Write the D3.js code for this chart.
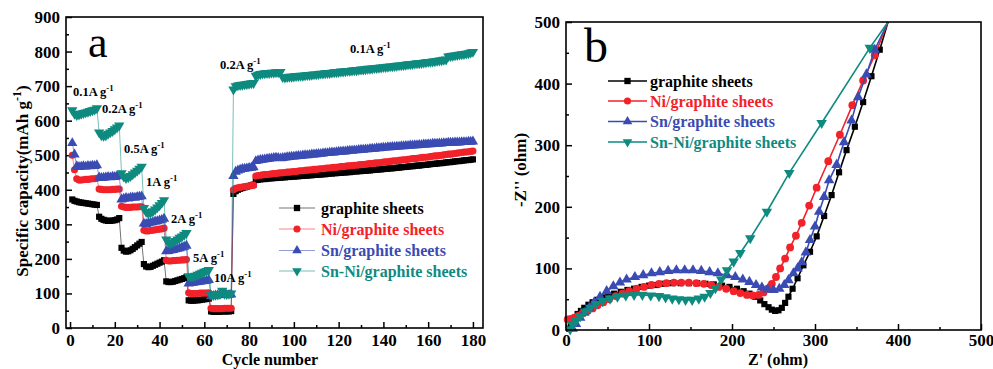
<!DOCTYPE html>
<html><head><meta charset="utf-8">
<script src="https://cdn.jsdelivr.net/npm/d3@7"></script>
<style>
body{margin:0;background:#fff}
svg{display:block}
</style>
</head><body>
<svg id="c" width="993" height="369"></svg>
<script>
// ---------- Panel a: rate capability ----------
const cycles = d3.range(1, 181);
const seriesNames = ["graphite sheets", "Ni/graphite sheets", "Sn/graphite sheets", "Sn-Ni/graphite sheets"];
const rateLabels = ["0.1A g", "0.2A g", "0.5A g", "1A g", "2A g", "5A g", "10A g", "0.2A g", "0.1A g"];

const graphite = [
 372,368,366,364,363,362,361,360,359,358,357,356,
 322,316,313,311,310,310,311,312,314,318,
 232,224,221,222,225,229,234,239,244,249,
 185,178,176,177,180,183,186,189,192,196,
 135,133,133,134,136,138,140,142,144,147,
 80,79,79,80,80,81,82,83,84,85,
 48,47,47,47,47,48,48,48,48,49,
 388,396,400,403,405,407,409,411,413,415,
 428,429,430,431,431,432,433,433,434,434,
 435,435,436,436,437,437,438,438,439,439,
 440,440,441,441,442,442,443,443,444,444,
 445,445,446,447,447,448,448,449,449,450,
 450,451,451,452,453,453,454,454,455,455,
 456,456,457,458,458,459,459,460,461,461,
 462,462,463,464,464,465,466,466,467,468,
 468,469,470,470,471,472,472,473,474,475,
 475,476,477,477,478,479,480,480,481,482,
 483,483,484,485,486,486,487,488];
const niGraphite = [
 500,458,432,428,428,429,430,430,431,432,432,433,
 402,401,400,400,400,400,401,401,402,402,
 352,350,349,349,349,350,350,350,351,351,
 283,281,281,282,283,284,285,286,287,289,
 196,194,194,195,195,196,196,197,197,198,
 102,100,100,100,100,101,101,101,101,102,
 57,56,56,56,56,56,57,57,57,57,
 400,404,406,407,408,409,410,411,412,413,
 440,441,442,443,444,444,445,446,447,447,
 448,449,449,450,451,451,452,453,453,454,
 455,455,456,457,457,458,459,459,460,461,
 461,462,463,463,464,465,465,466,467,467,
 468,469,469,470,471,471,472,473,473,474,
 475,476,476,477,478,478,479,480,481,481,
 482,483,484,484,485,486,487,487,488,489,
 490,490,491,492,493,494,494,495,496,497,
 498,498,499,500,501,502,503,503,504,505,
 506,507,508,509,509,510,511,512];
const snGraphite = [
 535,502,468,466,467,468,467,469,468,470,469,471,
 436,434,435,436,437,436,438,437,439,440,
 372,374,376,375,377,378,377,379,380,381,
 302,301,303,305,306,308,309,311,313,316,
 222,223,225,226,228,229,231,233,235,238,
 129,130,131,132,133,134,135,136,137,139,
 92,93,94,95,96,100,97,96,96,97,
 440,452,456,458,460,461,462,463,464,465,
 483,485,486,487,488,489,490,491,492,493,
 492,491,492,493,494,495,496,496,497,498,
 498,499,500,500,501,502,502,503,504,504,
 505,506,506,507,508,508,509,510,510,511,
 511,512,513,513,514,514,515,516,516,517,
 517,518,519,519,520,520,521,522,522,523,
 523,524,524,525,525,526,526,527,527,528,
 528,529,529,530,530,531,531,532,532,533,
 533,533,534,534,535,535,536,536,536,537,
 537,537,538,538,538,539,539,540];
const snNiGraphite = [
 630,620,616,618,620,622,624,626,628,630,632,636,
 566,558,556,558,562,566,570,575,580,586,
 448,438,434,436,440,445,450,455,461,467,
 347,336,332,334,338,343,349,355,362,370,
 256,247,245,248,252,256,261,265,270,275,
 150,148,149,151,154,157,160,163,165,168,
 96,95,96,97,98,108,99,98,99,100,
 690,700,702,703,704,705,706,707,708,709,
 730,733,735,736,737,738,738,739,739,740,
 740,741,726,725,726,727,727,728,729,729,
 730,730,731,732,732,733,734,734,735,736,
 736,737,738,738,739,740,740,741,742,742,
 743,744,744,745,746,746,747,748,748,749,
 750,750,751,752,752,753,754,755,755,756,
 757,757,758,759,760,760,761,762,763,763,
 764,765,766,766,767,768,769,770,770,771,
 772,773,774,775,776,777,786,787,788,789,
 790,791,792,793,794,795,797,799];

// ---------- Panel b: Nyquist plots [Z', -Z''] ----------
const eisGraphite = [[4,2],[6,8],[8,14],[11,20],[14,26],[18,31],[22,36],[27,41],[32,45],[38,49],[44,53],[51,56],[58,59],[66,62],[74,65],[82,67],[91,70],[100,72],[109,73],[118,75],[128,76],[138,76],[148,76],[158,76],[168,75],[178,74],[188,72],[197,70],[206,67],[214,63],[221,59],[228,54],[234,48],[239,42],[244,37],[248,33],[252,31],[256,32],[260,36],[264,44],[268,54],[273,67],[279,84],[286,105],[294,127],[302,152],[311,185],[320,219],[329,256],[338,292],[348,330],[358,370],[368,412],[378,455],[388,500]];
const eisNi = [[2,17],[6,18],[10,20],[15,23],[20,27],[26,31],[32,35],[38,40],[45,45],[52,50],[60,55],[68,59],[76,63],[85,67],[94,70],[103,73],[112,75],[121,76],[130,77],[139,77],[148,77],[157,76],[166,75],[175,73],[184,70],[193,67],[202,63],[210,60],[218,57],[225,56],[232,57],[238,61],[243,67],[248,75],[253,86],[258,100],[264,116],[270,134],[277,153],[284,174],[293,202],[302,231],[316,274],[330,317],[345,365],[358,405],[372,446],[388,500]];
const eisSn = [[8,2],[12,10],[17,20],[22,28],[28,36],[34,45],[41,54],[49,63],[57,71],[65,77],[73,82],[83,86],[93,89],[103,92],[113,94],[123,96],[133,97],[143,97],[153,97],[163,96],[173,94],[183,92],[194,89],[204,86],[213,82],[221,78],[229,73],[236,69],[243,66],[250,65],[257,67],[263,73],[268,81],[274,92],[279,100],[284,110],[289,126],[294,146],[300,168],[305,192],[311,216],[317,243],[326,268],[335,305],[344,340],[352,378],[362,415],[372,455],[388,500]];
const eisSnNi = [[5,1],[8,8],[12,15],[17,22],[23,30],[29,36],[36,42],[44,47],[53,51],[62,54],[72,56],[82,57],[92,57],[102,56],[112,55],[120,53],[128,51],[136,50],[144,49],[152,49],[160,51],[167,54],[174,60],[180,68],[187,82],[194,97],[202,111],[210,125],[222,149],[242,192],[269,255],[308,336],[366,458],[388,500]];

// ---------- drawing ----------
const FONT = '"Liberation Serif", "Times New Roman", Times, serif';
const colors = ["#000000", "#f2222a", "#3a4bb3", "#0e8a7f"];
const symbols = [d3.symbolSquare, d3.symbolCircle, d3.symbolTriangle, d3.symbolTriangle];
const rot = [0, 0, 0, 180];
const svg = d3.select("#c");

function txt(g, x, y, size, weight) {
  return g.append("text").attr("x", x).attr("y", y)
    .style("font-family", FONT).style("font-size", size + "px").style("font-weight", weight || "bold");
}
function frame(g, x, y) {
  const [x0, x1] = x.range(), [y0, y1] = y.range();
  g.append("rect").attr("x", x0).attr("y", y1).attr("width", x1 - x0).attr("height", y0 - y1)
    .attr("fill", "none").attr("stroke", "#000").attr("stroke-width", 1.6);
}
function axes(g, x, y, xMaj, xMin, yMaj, yMin, xPad) {
  const [x0] = x.range(), [y0] = y.range();
  const a1 = g.append("g").attr("transform", `translate(0,${y0})`)
    .call(d3.axisBottom(x).tickValues(xMin).tickSize(-3).tickFormat(""));
  const a2 = g.append("g").attr("transform", `translate(0,${y0})`)
    .call(d3.axisBottom(x).tickValues(xMaj).tickSize(-6).tickPadding(xPad).tickFormat(d3.format("d")));
  const a3 = g.append("g").attr("transform", `translate(${x0},0)`)
    .call(d3.axisLeft(y).tickValues(yMin).tickSize(-3).tickFormat(""));
  const a4 = g.append("g").attr("transform", `translate(${x0},0)`)
    .call(d3.axisLeft(y).tickValues(yMaj).tickSize(-6).tickPadding(6).tickFormat(d3.format("d")));
  [a1, a2, a3, a4].forEach(a => {
    a.attr("font-family", null).attr("font-size", null);
    a.select(".domain").remove();
    a.selectAll("line").attr("stroke", "#000").attr("stroke-width", 1.5);
    a.selectAll("text").attr("fill", "#000")
      .style("font-family", FONT).style("font-size", "17px").style("font-weight", "bold");
  });
}
function supText(g, x, y, base, sup, size, fill) {
  const t = txt(g, x, y, size).attr("fill", fill || "#000");
  t.append("tspan").text(base);
  t.append("tspan").attr("dy", -size * 0.4).style("font-size", (size * 0.7) + "px").text(sup);
  return t;
}

// Panel a
const xa = d3.scaleLinear([-1.8, 184.5], [66, 483]);
const ya = d3.scaleLinear([0, 900], [328, 17]);
const ga = svg.append("g");
axes(ga, xa, ya, d3.range(0, 181, 20), d3.range(10, 181, 20), d3.range(0, 901, 100), d3.range(50, 901, 100), 6);
const rateSeries = [graphite, niGraphite, snGraphite, snNiGraphite];
rateSeries.forEach((vals, i) => {
  const pts = cycles.map((c, k) => [c, vals[k]]);
  ga.append("path").attr("d", d3.line().x(d => xa(d[0])).y(d => ya(d[1]))(pts))
    .attr("fill", "none").attr("stroke", colors[i]).attr("stroke-opacity", 0.55).attr("stroke-width", 1);
  ga.append("g").selectAll("path").data(pts).join("path")
    .attr("d", d3.symbol(symbols[i], i === 1 ? 40 : (i >= 2 ? 46 : 38)))
    .attr("transform", d => `translate(${xa(d[0])},${ya(d[1])}) rotate(${rot[i]})`)
    .attr("fill", colors[i]);
});
frame(ga, xa, ya);
const annPos = [[73, 96], [102, 113], [124, 153], [146, 186], [171, 223], [193, 262], [214, 282], [220, 69], [350, 53]];
rateLabels.forEach((t, i) => supText(ga, annPos[i][0], annPos[i][1], t, "-1", 12.5));
txt(ga, 88, 57, 44, "normal").text("a");
txt(ga, 270, 365, 16).attr("text-anchor", "middle").text("Cycle number");
{
  const t = txt(ga, 0, 0, 17).attr("transform", "translate(28,181) rotate(-90)").attr("text-anchor", "middle");
  t.append("tspan").text("Specific capacity(mAh g");
  t.append("tspan").attr("dy", -7).style("font-size", "12px").text("-1");
  t.append("tspan").attr("dy", 7).text(")");
}
const legA = [208, 229, 250.5, 271];
seriesNames.forEach((n, i) => {
  ga.append("line").attr("x1", 279).attr("x2", 315).attr("y1", legA[i]).attr("y2", legA[i])
    .attr("stroke", colors[i]).attr("stroke-opacity", 0.55).attr("stroke-width", 1.2);
  ga.append("path").attr("d", d3.symbol(symbols[i], 40)).attr("fill", colors[i])
    .attr("transform", `translate(297,${legA[i]}) rotate(${rot[i]})`);
  txt(ga, 321, legA[i] + 5.5, 16).attr("fill", colors[i]).text(n);
});

// Panel b
const xb = d3.scaleLinear([0, 500], [566, 981]);
const yb = d3.scaleLinear([0, 500], [330, 22]);
const gb = svg.append("g");
axes(gb, xb, yb, d3.range(0, 501, 100), d3.range(50, 501, 100), d3.range(0, 501, 100), d3.range(50, 501, 100), 4);
const eisSeries = [eisGraphite, eisNi, eisSn, eisSnNi];
eisSeries.forEach((pts, i) => {
  gb.append("path").attr("d", d3.line().x(d => xb(d[0])).y(d => yb(d[1]))(pts))
    .attr("fill", "none").attr("stroke", colors[i]).attr("stroke-width", 1.6);
  gb.append("g").selectAll("path").data(pts.slice(0, -1)).join("path")
    .attr("d", d3.symbol(symbols[i], i === 0 ? 38 : 48))
    .attr("transform", d => `translate(${xb(d[0])},${yb(d[1])}) rotate(${rot[i]})`)
    .attr("fill", colors[i]);
});
frame(gb, xb, yb);
txt(gb, 584, 62, 48, "normal").text("b");
txt(gb, 778, 365, 16).attr("text-anchor", "middle").text("Z' (ohm)");
txt(gb, 0, 0, 17).attr("transform", "translate(526,170) rotate(-90)").attr("text-anchor", "middle").text("-Z'' (ohm)");
const legB = [81, 101, 121.5, 142];
seriesNames.forEach((n, i) => {
  gb.append("line").attr("x1", 608).attr("x2", 647).attr("y1", legB[i]).attr("y2", legB[i])
    .attr("stroke", colors[i]).attr("stroke-width", 1.6);
  gb.append("path").attr("d", d3.symbol(symbols[i], 40)).attr("fill", colors[i])
    .attr("transform", `translate(627.5,${legB[i]}) rotate(${rot[i]})`);
  txt(gb, 650, legB[i] + 5.5, 16).attr("fill", colors[i]).text(n);
});
</script>
</body></html>
